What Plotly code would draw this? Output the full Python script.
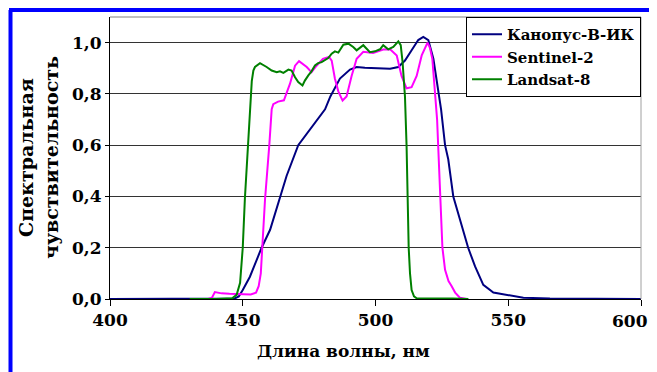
import plotly.graph_objects as go

# ---- data ----
kan_wl = [400, 440, 447, 448.5, 450, 452.7, 455.2, 457.1, 460.3, 462.1, 463.8, 466.5, 470.9, 475.3,
          478.1, 481, 483, 486.6, 490.4, 492.9, 496, 499.1, 502, 505.5, 508.6, 511.1, 513.6, 516.1,
          518, 519.9, 521.8, 523.7, 524.7, 526.2, 527.4, 529.3, 531.1, 534.9, 537.5, 540.6, 544.4,
          549.4, 555.7, 565.7, 580, 600]
kan_val = [0, 0, 0.002, 0.01, 0.035, 0.087, 0.153, 0.2, 0.27, 0.33, 0.39, 0.48, 0.6, 0.66,
           0.70, 0.74, 0.79, 0.86, 0.895, 0.905, 0.902, 0.90, 0.899, 0.898, 0.905, 0.93, 0.97, 1.01,
           1.022, 1.01, 0.937, 0.80, 0.74, 0.60, 0.545, 0.40, 0.336, 0.2, 0.127, 0.055, 0.025,
           0.016, 0.005, 0.002, 0.001, 0]

sen_wl = [437, 438.4, 439.5, 442, 445, 448, 453, 455, 456, 456.8, 457.4, 458.4, 460, 460.9, 461.5,
          463.3, 465.5, 467.8, 469.7, 471.2, 474.1, 475.9, 477.8, 480.2, 482.5, 483.5, 484.7, 486,
          487.6, 489.1, 491, 492.9, 495.4, 499.1, 502.9, 505.5, 508, 509.8, 511.7, 513.6, 515.5,
          517.4, 519.6, 520.5, 521.4, 522.3, 523.2, 523.6, 524.3, 525.2, 526.2, 527.5, 528.7, 530,
          531.8, 534.3]
sen_val = [0, 0.005, 0.027, 0.022, 0.02, 0.02, 0.018, 0.025, 0.05, 0.1, 0.2, 0.39, 0.6, 0.74, 0.76,
           0.77, 0.775, 0.84, 0.91, 0.928, 0.905, 0.885, 0.91, 0.937, 0.944, 0.93, 0.86, 0.81,
           0.774, 0.79, 0.87, 0.937, 0.964, 0.96, 0.973, 0.974, 0.95, 0.87, 0.822, 0.826, 0.87,
           0.95, 1.0, 0.98, 0.937, 0.82, 0.70, 0.6, 0.4, 0.2, 0.114, 0.07, 0.05, 0.025,
           0.005, 0]

lan_wl = [430, 440, 446, 447.7, 449, 450, 450.8, 451.9, 452.7, 453.4, 454.0, 454.6, 456.5, 457.7,
          459.0, 460.9, 462.8, 464.0, 465.3, 467.2, 468.4, 469.7, 470.9, 472.5, 473.4, 474.7,
          475.9, 477.2, 478.4, 479.7, 481.0, 482.2, 483.5, 484.7, 486.0, 487.9, 489.8, 491.6,
          492.9, 495.4, 497.9, 499.8, 501.7, 502.9, 504.8, 506.7, 508.6, 509.5, 510.2, 511.1,
          511.7, 512.1, 512.5, 513.0, 513.6, 514.5, 515.5, 529, 535]
lan_val = [0, 0, 0.003, 0.016, 0.063, 0.2, 0.39, 0.6, 0.74, 0.85, 0.891, 0.905, 0.920, 0.914,
           0.905, 0.891, 0.885, 0.888, 0.882, 0.895, 0.891, 0.865, 0.846, 0.833, 0.852, 0.872,
           0.888, 0.911, 0.920, 0.924, 0.931, 0.940, 0.957, 0.966, 0.961, 0.992, 0.996, 0.983,
           0.970, 0.990, 0.963, 0.966, 0.974, 0.990, 0.974, 0.983, 1.005, 0.99, 0.924, 0.79,
           0.6, 0.4, 0.2, 0.1, 0.035, 0.01, 0.003, 0.002, 0]

names = ["Канопус-В-ИК", "Sentinel-2", "Landsat-8"]
x_ticks = [400, 450, 500, 550, 600]
x_ticklabels = ["400", "450", "500", "550", "600"]
y_ticks = [0.0, 0.2, 0.4, 0.6, 0.8, 1.0]

FONT = "DejaVu Serif"
TICKFONT = dict(family=FONT, size=17, color="black", weight="bold")

fig = go.Figure()
for wl, val, name, col in [(kan_wl, kan_val, names[0], "#000080"),
                           (sen_wl, sen_val, names[1], "#FF00FF"),
                           (lan_wl, lan_val, names[2], "#008000")]:
    fig.add_trace(go.Scatter(x=wl, y=val, mode="lines", name=name,
                             line=dict(color=col, width=2)))

# the page body has an 8px margin: lay out in page pixels minus 8
OFF = 8
W, H = 657 - OFF, 372 - OFF
ml, mr, mt, mb = 110 - OFF, 16, 17 - OFF, 73
pw, ph = W - ml - mr, H - mt - mb


def px2paper(x, y):
    x -= OFF
    y -= OFF
    return (x - ml) / pw, (H - mb - y) / ph


shapes = []
shapes.append(dict(type="line", xref="paper", yref="paper", x0=0, x1=1, y0=1, y1=1,
                   line=dict(color="#808080", width=1)))
shapes.append(dict(type="line", xref="paper", yref="paper", x0=1, x1=1, y0=0, y1=1,
                   line=dict(color="#A0A0A0", width=1)))
bx0, by0 = px2paper(9, 10)
bx1, _ = px2paper(657, 10)
lx, ly1 = px2paper(10.5, 10)
_, ly0 = px2paper(10.5, 372)
shapes.append(dict(type="line", xref="paper", yref="paper", x0=bx0, x1=bx1, y0=by0, y1=by0,
                   line=dict(color="#0000FF", width=4)))
shapes.append(dict(type="line", xref="paper", yref="paper", x0=lx, x1=lx, y0=ly0, y1=ly1,
                   line=dict(color="#0000FF", width=4)))

tx, ty = px2paper(343, 351)
yx, yy = px2paper(38, 158)

# the last x label sits a little inside the plot edge, as in the reference
tick_text = x_ticklabels[:-1] + [""]

fig.update_layout(
    width=W, height=H,
    margin=dict(l=ml, r=mr, t=mt, b=mb, autoexpand=False),
    paper_bgcolor="white", plot_bgcolor="white",
    separators=",.",
    showlegend=True,
    legend=dict(x=1, y=1, xanchor="right", yanchor="top",
                bordercolor="black", borderwidth=1, bgcolor="white",
                font=dict(family=FONT, size=15, color="black", weight="bold"),
                tracegroupgap=0, itemwidth=30),
    shapes=shapes,
    annotations=[
        dict(text="Длина волны, нм", xref="paper", yref="paper", x=tx, y=ty,
             showarrow=False, xanchor="center", yanchor="middle",
             font=dict(family=FONT, size=17, color="black", weight="bold")),
        dict(text="Спектральная<br>чувствительность", xref="paper", yref="paper", x=yx, y=yy,
             showarrow=False, xanchor="center", yanchor="middle", textangle=-90,
             font=dict(family=FONT, size=19, color="black", weight="bold")),
        dict(text=x_ticklabels[-1], xref="x", yref="paper", x=x_ticks[-1], y=0,
             showarrow=False, xanchor="center", yanchor="middle", xshift=-11, yshift=-22,
             font=TICKFONT),
    ],
)
fig.update_xaxes(range=[400, 600], tickvals=x_ticks, ticktext=tick_text,
                 ticks="outside", ticklen=6,
                 tickcolor="black", showline=True, linecolor="black", linewidth=1,
                 showgrid=False, zeroline=False, automargin=False,
                 tickfont=TICKFONT)
fig.update_yaxes(range=[0, 1.1], tickvals=y_ticks, tickformat=".1f", ticks="outside",
                 ticklen=4, tickcolor="black", showline=True, linecolor="black", linewidth=1,
                 showgrid=True, gridcolor="#333333", gridwidth=1, zeroline=False,
                 automargin=False,
                 tickfont=TICKFONT)

fig.write_html("out.html")
